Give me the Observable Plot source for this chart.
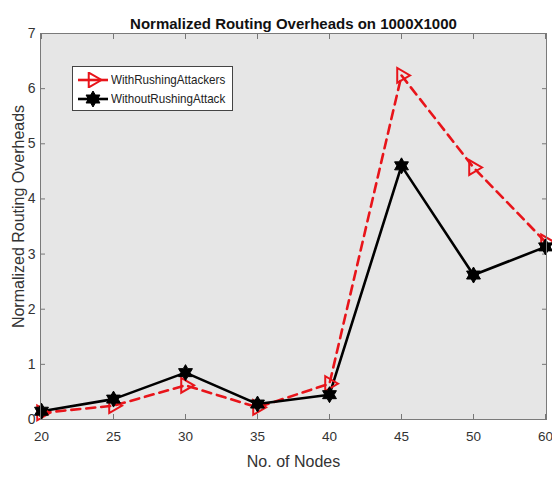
<!DOCTYPE html>
<html>
<head>
<meta charset="utf-8">
<script src="https://cdn.jsdelivr.net/npm/d3@7"></script>
<script src="https://cdn.jsdelivr.net/npm/@observablehq/plot@0.6"></script>
<style>
  body { margin: 0; background: #fff; }
  #wrap { position: relative; width: 552px; height: 477px; font-family: "Liberation Sans", Arial, sans-serif; }
  #legend { position: absolute; left: 72px; top: 66px; width: 159px; height: 43px; background: #fff; border: 1px solid #444; font-size: 13.5px; color: #222; overflow: hidden; }
  #legend .row { display: flex; align-items: center; height: 19px; margin-left: 3px; white-space: nowrap; }
  #legend .row:first-child { margin-top: 3px; }
  #legend svg { margin-right: 1px; flex: none; }
  #legend span { display: inline-block; transform: scaleX(0.86); transform-origin: left center; }
</style>
</head>
<body>
<div id="wrap">
  <div id="chart"></div>
  <div id="legend"></div>
</div>
<script>
const nodes = ["20", "25", "30", "35", "40", "45", "50", "60"];
const withRushing = [0.12, 0.25, 0.62, 0.22, 0.65, 6.24, 4.57, 3.22];
const withoutRushing = [0.15, 0.37, 0.85, 0.28, 0.45, 4.60, 2.62, 3.13];
const yTicks = [0, 1, 2, 3, 4, 5, 6, 7];
const seriesNames = ["WithRushingAttackers", "WithoutRushingAttack"];
const titleText = "Normalized Routing Overheads on 1000X1000";
const xLabel = "No. of Nodes";
const yLabel = "Normalized Routing Overheads";

const redData = nodes.map((n, i) => ({node: n, value: withRushing[i]}));
const blackData = nodes.map((n, i) => ({node: n, value: withoutRushing[i]}));

const hexagram = {
  draw(context, size) {
    const R = Math.sqrt(size / Math.PI);
    const r = R / Math.sqrt(3);
    for (let k = 0; k < 12; k++) {
      const a = -Math.PI / 2 + k * Math.PI / 6;
      const rad = k % 2 === 0 ? R : r;
      const x = rad * Math.cos(a), y = rad * Math.sin(a);
      if (k === 0) context.moveTo(x, y); else context.lineTo(x, y);
    }
    context.closePath();
  }
};

const font = '"Liberation Sans", Arial, sans-serif';

const chart = Plot.plot({
  width: 552,
  height: 477,
  marginTop: 33,
  marginBottom: 58,
  marginLeft: 40,
  marginRight: 6,
  style: {fontFamily: font, fontSize: "13px", color: "#333", background: "#fff"},
  x: {type: "point", domain: nodes, padding: 0},
  y: {domain: [0, 7]},
  marks: [
    Plot.frame({fill: "#e6e6e6", stroke: null}),
    Plot.axisX({anchor: "bottom", tickSize: -5, tickPadding: 17, fontSize: 13.5, label: null, stroke: "#777"}),
    Plot.axisX({anchor: "top", tickSize: -5, tickFormat: () => "", label: null, stroke: "#777"}),
    Plot.axisY(yTicks, {anchor: "left", tickSize: -5, tickPadding: 10, fontSize: 14, label: null, stroke: "#777", tickFormat: d => String(d)}),
    Plot.axisY(yTicks, {anchor: "right", tickSize: -5, tickFormat: () => "", label: null, stroke: "#777"}),
    Plot.line(redData, {x: "node", y: "value", stroke: "#e8141a", strokeWidth: 2.6, strokeDasharray: "9,6"}),
    Plot.line(blackData, {x: "node", y: "value", stroke: "#000", strokeWidth: 2.6}),
    Plot.dot(redData, {x: "node", y: "value", symbol: "triangle", rotate: 90, r: 5.5, stroke: "#e8141a", strokeWidth: 2, fill: "none"}),
    Plot.dot(blackData, {x: "node", y: "value", symbol: hexagram, r: 8, fill: "#000", stroke: "#000", strokeWidth: 1}),
    Plot.frame({stroke: "#7a7a7a", strokeWidth: 1}),
    Plot.text([titleText], {frameAnchor: "top", dy: -15, fontWeight: "bold", fontSize: 15, fill: "#111"}),
    Plot.text([xLabel], {frameAnchor: "bottom", dy: 47, fontSize: 16, fill: "#333"}),
    Plot.text([yLabel], {frameAnchor: "left", textAnchor: "middle", dx: -22, dy: -10, rotate: -90, fontSize: 16, fill: "#333"})
  ]
});
document.getElementById("chart").appendChild(chart);

// Legend
const legend = document.getElementById("legend");
const specs = [
  {name: seriesNames[0], color: "#e8141a", marker: "tri"},
  {name: seriesNames[1], color: "#000", marker: "star"}
];
for (const s of specs) {
  const row = document.createElement("div");
  row.className = "row";
  const svg = d3.create("svg").attr("width", 34).attr("height", 16);
  svg.append("line").attr("x1", 2).attr("x2", 32).attr("y1", 8).attr("y2", 8)
    .attr("stroke", s.color).attr("stroke-width", 2.6);
  if (s.marker === "tri") {
    svg.append("path").attr("d", d3.symbol(d3.symbolTriangle, Math.PI * 5.5 * 5.5)())
      .attr("transform", "translate(17,8) rotate(90)")
      .attr("fill", "none").attr("stroke", s.color).attr("stroke-width", 2);
  } else {
    svg.append("path").attr("d", d3.symbol(hexagram, Math.PI * 8 * 8)())
      .attr("transform", "translate(17,8)")
      .attr("fill", s.color).attr("stroke", s.color);
  }
  row.appendChild(svg.node());
  const t = document.createElement("span");
  t.textContent = s.name;
  row.appendChild(t);
  legend.appendChild(row);
}
</script>
</body>
</html>
